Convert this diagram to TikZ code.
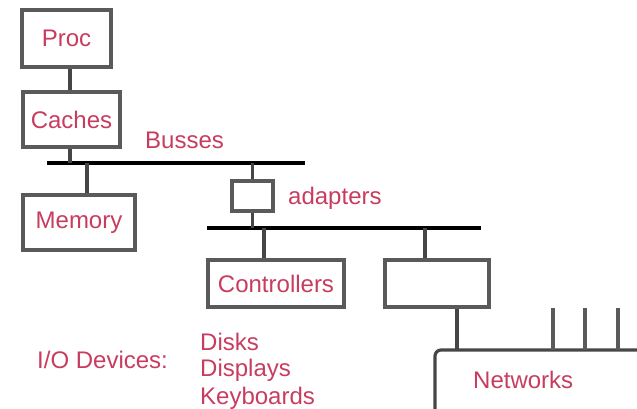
\documentclass[tikz,border=0pt]{standalone}
\usepackage{fontspec}
\setmainfont{Liberation Sans}
\definecolor{txt}{RGB}{200,60,95}
\definecolor{boxc}{RGB}{90,90,90}
\definecolor{conc}{RGB}{70,70,70}
\begin{document}
\begin{tikzpicture}[x=1pt,y=-1pt,
  box/.style={draw=boxc,line width=3.4pt,fill=white,inner sep=0pt,font=\fontsize{24}{27}\selectfont,text=txt},
  lbl/.style={font=\fontsize{24}{27}\selectfont,text=txt,inner sep=0pt},
  bus/.style={line width=4.6pt,black},
  con/.style={line width=3.2pt,conc},
  tick/.style={line width=3.2pt,boxc}]
\useasboundingbox (0,0) rectangle (637,408);
% boxes
\node[box,minimum width=89pt,minimum height=57pt] (proc) at (66.5,38.5) {Proc};
\node[box,minimum width=97pt,minimum height=55pt] (caches) at (71.5,119.5) {Caches};
\node[box,minimum width=112pt,minimum height=55pt] (memory) at (79,222.5) {Memory};
\node[box,minimum width=41pt,minimum height=30pt] (adapter) at (252.5,196) {};
\node[box,minimum width=136pt,minimum height=47pt] (ctrl) at (276,283.5) {Controllers};
\node[box,minimum width=104pt,minimum height=47pt] (rbox) at (437,283.5) {};
% bus coordinates
\coordinate (b1l) at (47,163);
\coordinate (b1r) at (305,163);
\coordinate (b2l) at (207,228);
\coordinate (b2r) at (481,228);
\coordinate (nettop) at (457,350);
\coordinate (netl) at (435,410);
\coordinate (netr) at (640,350);
\coordinate (t1) at (553,308);
\coordinate (t2) at (585,308);
\coordinate (t3) at (618,308);
% buses
\draw[bus] (b1l) -- (b1r);
\draw[bus] (b2l) -- (b2r);
% connectors
\draw[con] (proc.south -| 70,0) -- (caches.north -| 70,0);
\draw[con] (caches.south -| 70,0) -- (b1l -| 70,0);
\draw[con] (b1l -| 87,0) -- (memory.north -| 87,0);
\draw[con] (b1l -| adapter.north) -- (adapter.north);
\draw[con] (adapter.south) -- (b2l -| adapter.south);
\draw[con] (b2l -| 264,0) -- (ctrl.north -| 264,0);
\draw[con] (b2l -| 425,0) -- (rbox.north -| 425,0);
\draw[con] (rbox.south -| nettop) -- (nettop);
% network
\draw[con,rounded corners=6pt] (netl) -- (netl |- netr) -- (netr);
\draw[tick] (t1) -- (t1 |- netr);
\draw[tick] (t2) -- (t2 |- netr);
\draw[tick] (t3) -- (t3 |- netr);
% labels
\node[lbl,anchor=west] (busses) at (145,140) {Busses};
\node[lbl,anchor=west] (adapters) at (288,198) {adapters};
\node[lbl,anchor=west] (io) at (37,360) {I/O Devices:};
\node[lbl,anchor=west] (disks) at (200,342) {Disks};
\node[lbl,anchor=west] (displays) at (200,370) {Displays};
\node[lbl,anchor=west] (keyb) at (200,398) {Keyboards};
\node[lbl,anchor=west] (net) at (473,380) {Networks};
\end{tikzpicture}
\end{document}
